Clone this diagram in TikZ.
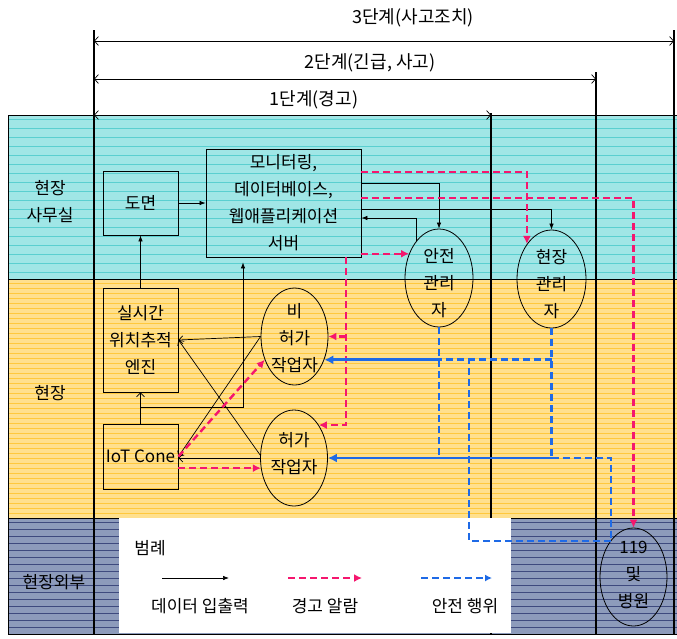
\documentclass[tikz,border=0pt]{standalone}
\usepackage{fontspec}
\setmainfont{Noto Sans CJK KR}
\usetikzlibrary{arrows.meta,shapes.geometric}
\definecolor{cyanbg}{HTML}{A0E6E6}
\definecolor{cyanln}{HTML}{5ACFD0}
\definecolor{yelbg}{HTML}{FFE08E}
\definecolor{yelln}{HTML}{FFC83C}
\definecolor{navbg}{HTML}{8D9BBB}
\definecolor{navln}{HTML}{3E4A7E}
\definecolor{alarmc}{HTML}{F5166E}
\definecolor{safec}{HTML}{1E6AE6}
\newcommand\myfs{\fontsize{17}{27}\selectfont}
\newcommand\mystfs{\fontsize{18}{27}\selectfont}
\begin{document}
\begin{tikzpicture}[x=1pt,y=-1pt,
  box/.style={draw, line width=0.8pt, inner sep=0pt, align=center, font=\myfs},
  ell/.style={ellipse, draw, line width=0.8pt, inner sep=0pt},
  txt/.style={align=center, font=\myfs, inner sep=0pt},
  sttxt/.style={align=center, font=\mystfs, inner sep=0pt},
  data/.style={line width=0.7pt, -{Latex[length=6pt,width=4.5pt]}},
  barb/.style={line width=0.7pt, -{Straight Barb[length=4pt,width=8pt]}},
  stage/.style={line width=0.7pt, {Straight Barb[length=4pt,width=9pt]}-{Straight Barb[length=4pt,width=9pt]}},
  alarm/.style={draw=alarmc, line width=2.4pt, dash pattern=on 7pt off 4pt},
  alarmarr/.style={alarm, -{Latex[length=8pt,width=8pt]}},
  safe/.style={draw=safec, line width=2.6pt, dash pattern=on 7pt off 4pt},
  safearr/.style={draw=safec, line width=2.8pt, -{Latex[length=9pt,width=9pt]}},
  vline/.style={line width=1.6pt}
]
\useasboundingbox (0,0) rectangle (677,638);
% bands
\fill[cyanbg] (8,115) rectangle (677,279);
\fill[yelbg] (8,279) rectangle (677,518);
\fill[navbg] (8,518) rectangle (677,634);
\foreach \y in {119,128,...,275} \draw[cyanln, line width=0.8pt] (8,\y) -- (677,\y);
\foreach \y in {283,288,...,515} \draw[yelln, line width=0.6pt] (8,\y) -- (677,\y);
\foreach \y in {522,529,...,631} \draw[navln, line width=0.6pt] (8,\y) -- (677,\y);
\draw[line width=0.6pt] (8,115) rectangle (677,279);
\draw[line width=0.6pt] (8,279) rectangle (677,518);
\draw[line width=0.6pt] (8,518) rectangle (677,634);
% vertical stage lines
\draw[vline] (94,30) -- (94,634);
\draw[vline] (491,113) -- (491,634);
\draw[vline] (596,72) -- (596,634);
\draw[vline] (674,30) -- (674,634);
% stage arrows
\coordinate (s3a) at (94,41); \coordinate (s3b) at (674,41);
\coordinate (s2a) at (94,79); \coordinate (s2b) at (596,79);
\coordinate (s1a) at (94,115); \coordinate (s1b) at (491,115);
\draw[stage] (s3a) -- (s3b);
\draw[stage] (s2a) -- (s2b);
\draw[stage] (s1a) -- (s1b);
\node[sttxt] (t3) at (413,18) {3단계(사고조치)};
\node[sttxt] (t2) at (370,63) {2단계(긴급, 사고)};
\node[sttxt] (t1) at (314,100) {1단계(경고)};
% row labels
\node[txt] (r1) at (50,202) {현장\\사무실};
\node[txt] (r2) at (50,393) {현장};
\node[txt] (r3) at (54,582) {현장외부};
% legend box
\fill[white] (119,518) rectangle (511,633);
\node[txt] (lg) at (150,548) {범례};
\coordinate (la1) at (162,578); \coordinate (la2) at (229,578);
\coordinate (lb1) at (288,578); \coordinate (lb2) at (362,578);
\coordinate (lc1) at (421,578); \coordinate (lc2) at (492,578);
\draw[data] (la1) -- (la2);
\draw[alarmarr, line width=2pt] (lb1) -- (lb2);
\draw[safe, line width=2pt, -{Latex[length=7pt,width=7pt]}] (lc1) -- (lc2);
\node[txt] (lt1) at (200,606) {데이터 입출력};
\node[txt] (lt2) at (325,606) {경고 알람};
\node[txt] (lt3) at (465,606) {안전 행위};
% boxes
\node[box, minimum width=75pt, minimum height=64pt] (dm) at (140.5,203) {도면};
\node[box, minimum width=155pt, minimum height=108pt] (srv) at (283.5,203) {모니터링,\\데이터베이스,\\웹애플리케이션\\서버};
\node[box, minimum width=75pt, minimum height=104pt] (eng) at (140.5,340) {실시간\\위치추적\\엔진};
\node[box, minimum width=75pt, minimum height=65pt] (iot) at (140.5,456.5) {IoT Cone};
% ellipses
\node[ell, minimum width=67pt, minimum height=97pt] (np) at (294.5,336.5) {};
\node[txt] (npt) at (294.5,338.5) {비\\허가\\작업자};
\node[ell, minimum width=67pt, minimum height=96pt] (pm) at (294,458) {};
\node[txt] (pmt) at (294,454) {허가\\작업자};
\node[ell, minimum width=68pt, minimum height=98pt] (sm) at (439,278) {};
\node[txt] (smt) at (439,283) {안전\\관리\\자};
\node[ell, minimum width=69pt, minimum height=98pt] (fm) at (551.5,279) {};
\node[txt] (fmt) at (551.5,284) {현장\\관리\\자};
\node[ell, minimum width=67pt, minimum height=98pt] (hm) at (633.5,577) {};
\node[txt] (hmt) at (633.5,575) {119\\및\\병원};
% data connectors
\draw[data] (dm.east) -- (srv.west |- dm.east);
\draw[data] (eng.north) -- (dm.south);
\draw[barb] (iot.north) -- (eng.south);
\draw[data, shorten >=5pt] (iot.north |- 0,407) -| (srv.south -| 243,0);
\draw[data] (srv.east |- 0,183) -| (sm.north);
\draw[data] (srv.east |- 0,209) -| (fm.north);
\draw[data] (sm.122.5) |- (srv.east |- 0,218);
\draw[barb] (np.west) -- (eng.east);
\draw[barb] (pm.175) -- (eng.east);
\draw[barb] (np.west) -- (iot.east);
\draw[barb] (pm.west) -- (iot.east |- pm.west);
% alarm connectors
\draw[alarmarr] (iot.east) -- (np.218.7);
\draw[alarmarr] (iot.east |- pm.197) -- (pm.197);
\draw[alarmarr] (srv.east |- sm.141) -- (sm.141);
\draw[alarmarr] (srv.south -| 346,0) |- (pm.53.6);
\coordinate (rb) at (346,336.5);
\draw[alarmarr] (rb) -- (np.east);
\draw[alarmarr] (srv.east |- 0,172) -| (fm.125.4);
\draw[alarmarr] (srv.east |- 0,198) -| (hm.north);
% safety connectors
\coordinate (b1) at (469,360);
\coordinate (b2) at (469,541);
\coordinate (b3) at (611,541);
\coordinate (b4) at (611,458);
\draw[safe] (sm.south) -- (sm.south |- pm.east);
\draw[safe] (fm.south) -- (fm.south |- pm.east);
\draw[safe] (fm.south |- np.-38.7) -- (sm.south |- np.-38.7);
\draw[safe] (fm.south |- pm.east) -- (b4) -- (b3) -- (b2) -- (b1);
\draw[safearr] (sm.south |- np.-38.7) -- (np.-38.7);
\draw[safearr] (fm.south |- pm.east) -- (pm.east);
\end{tikzpicture}
\end{document}
